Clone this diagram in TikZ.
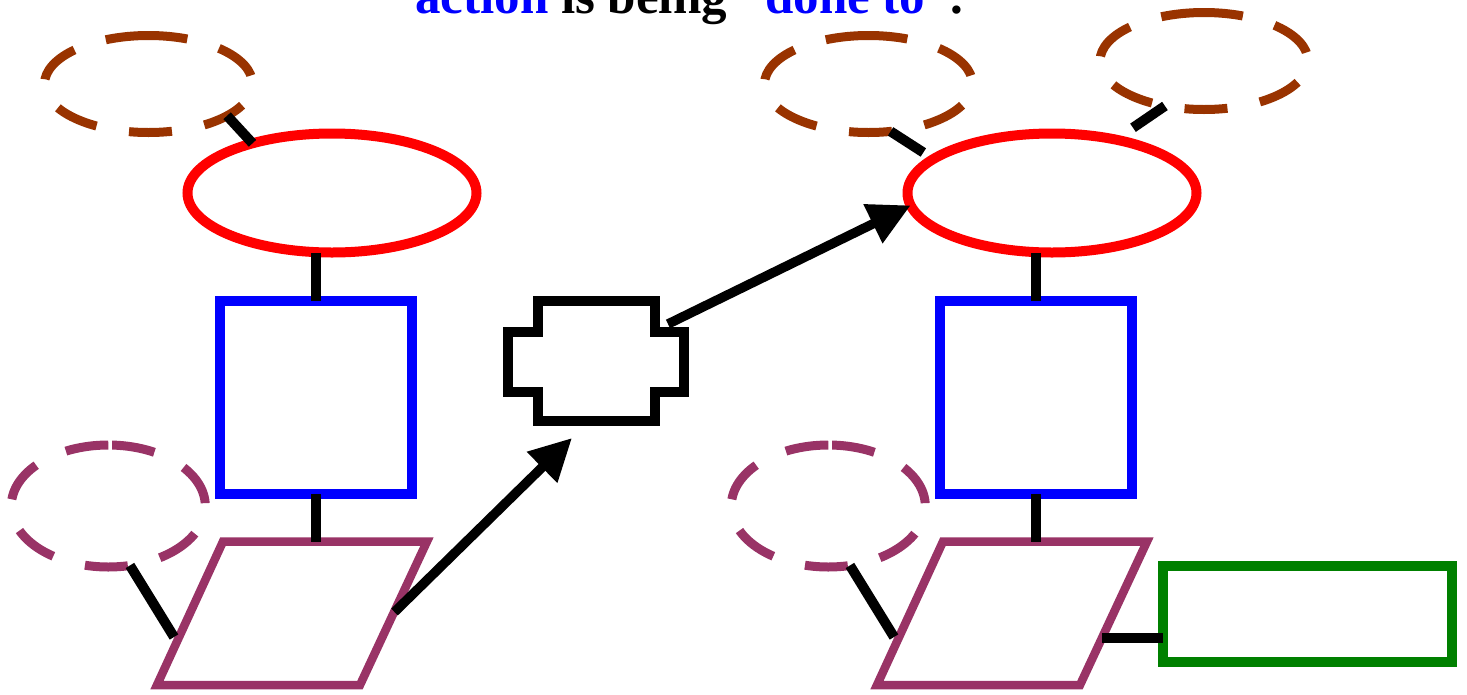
\documentclass[tikz,border=0pt]{standalone}
\usepackage{fontspec}
\setmainfont{Liberation Serif}
\usetikzlibrary{arrows.meta,shapes.geometric,calc}
\definecolor{brn}{RGB}{153,51,0}
\definecolor{prp}{RGB}{153,51,102}
\definecolor{grn}{RGB}{0,128,0}
\begin{document}
\begin{tikzpicture}[x=1pt,y=-1pt,
  redell/.style={ellipse, draw=red, line width=10pt, minimum width=289pt, minimum height=119pt, inner sep=0pt, outer sep=0pt},
  bluebox/.style={rectangle, draw=blue, line width=10pt, minimum width=192pt, minimum height=193pt, inner sep=0pt, outer sep=0pt},
  greenbox/.style={rectangle, draw=grn, line width=10pt, minimum width=289pt, minimum height=96.6pt, inner sep=0pt, outer sep=0pt},
  ghostB/.style={ellipse, draw=none, minimum width=208pt, minimum height=97pt, inner sep=0pt, outer sep=0pt},
  ghostP/.style={ellipse, draw=none, minimum width=194pt, minimum height=122pt, inner sep=0pt, outer sep=0pt},
  ghostX/.style={rectangle, draw=none, minimum width=176pt, minimum height=120pt, inner sep=0pt, outer sep=0pt},
  browndash/.style={draw=brn, line width=9pt, dash pattern=on 43pt off 33pt},
  purpledash/.style={draw=prp, line width=9pt, dash pattern=on 43pt off 33pt},
  para/.style={draw=prp, line width=8.5pt},
  crossst/.style={draw=black, line width=10pt},
  conn/.style={draw=black, line width=10pt},
  arr/.style={draw=black, line width=9.5pt, -{Triangle[length=42pt,width=41pt]}},
  titlefont/.style={font=\fontsize{51}{61}\selectfont\bfseries}
]
\useasboundingbox (0,0) rectangle (1467,694);
\clip (0,0) rectangle (1467,694);

% title (clipped at the top)
\node[titlefont, anchor=base west, inner sep=0pt] (title) at (415,13.5)
  {\textcolor{blue}{action} is being “\textcolor{blue}{done to}”.};

% ---------- left group ----------
\node[redell] (r1) at (332,193) {};
\node[bluebox] (q1) at (316,397.5) {};
\node[ghostB] (b1) at (148.5,84) {};
\draw[browndash] (b1.north) arc[start angle=90, end angle=450, x radius=104pt, y radius=48.5pt];
\node[ghostP] (u1) at (108.3,506) {};
\draw[purpledash] (u1.north) arc[start angle=90, end angle=450, x radius=97pt, y radius=61pt];
\coordinate (p1a) at (223,541.5);
\coordinate (p1b) at (427,541.5);
\coordinate (p1c) at (360,685);
\coordinate (p1d) at (157,685);
\draw[para] (p1a) -- (p1b) -- (p1c) -- (p1d) -- cycle;

% ---------- middle shape ----------
\node[ghostX] (x1) at (596,361) {};
\draw[crossst] (538,301) -- (655,301) -- (655,332) -- (684,332) -- (684,392)
  -- (655,392) -- (655,421) -- (538,421) -- (538,392) -- (508,392)
  -- (508,332) -- (538,332) -- cycle;

% ---------- right group ----------
\node[redell] (r2) at (1052,193) {};
\node[bluebox] (q2) at (1036,397.5) {};
\node[ghostB] (b2) at (868.5,84) {};
\draw[browndash] (b2.north) arc[start angle=90, end angle=450, x radius=104pt, y radius=48.5pt];
\node[ghostB] (b3) at (1204,61) {};
\draw[browndash] (b3.north) arc[start angle=90, end angle=450, x radius=104pt, y radius=48.5pt];
\node[ghostP] (u2) at (828.3,506) {};
\draw[purpledash] (u2.north) arc[start angle=90, end angle=450, x radius=97pt, y radius=61pt];
\coordinate (p2a) at (943,541.5);
\coordinate (p2b) at (1147,541.5);
\coordinate (p2c) at (1080,685);
\coordinate (p2d) at (877,685);
\draw[para] (p2a) -- (p2b) -- (p2c) -- (p2d) -- cycle;
\node[greenbox] (g) at (1307.8,614) {};

% ---------- connectors ----------
\draw[conn] (b1.-22) -- (r1.148.5);
\draw[conn] (q1.north) -- (q1.north |- r1.south);
\draw[conn] (q1.south) -- (q1.south |- p1a);
\coordinate (p1l) at (174,637);
\draw[conn] (u1.-70) -- (p1l);
\coordinate (p1r) at (394.5,612);
\coordinate (t1) at (572,438);
\draw[arr] (p1r) -- (t1);

\coordinate (s2) at (668,324);
\draw[arr] (s2) -- (r2.185);

\draw[conn, shorten >=12pt] (b2.-65) -- (r2.164.5);
\draw[conn, shorten >=21pt] (b3.229.6) -- (r2.40.5);
\draw[conn] (q2.north) -- (q2.north |- r2.south);
\draw[conn] (q2.south) -- (q2.south |- p2a);
\coordinate (p2l) at (894,637);
\draw[conn] (u2.-70) -- (p2l);
\coordinate (p2r) at (1102,638);
\draw[conn] (p2r) -- (p2r -| g.west);
\end{tikzpicture}
\end{document}
